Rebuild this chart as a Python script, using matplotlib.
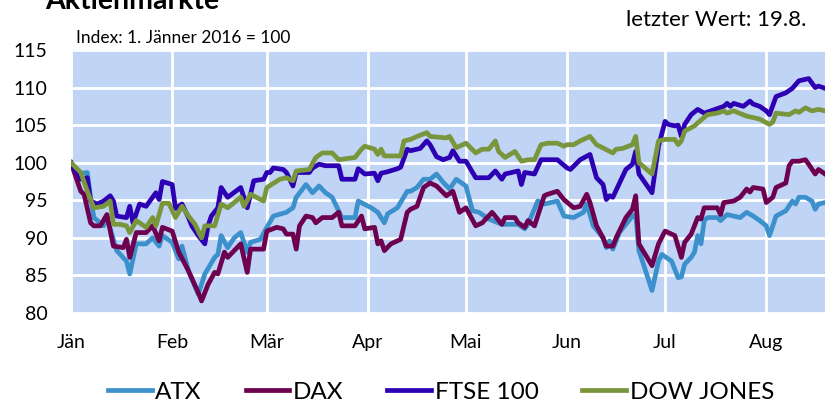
import matplotlib
matplotlib.use("Agg")
import matplotlib.pyplot as plt
import pandas as pd

# Index: 1. Jänner 2016 = 100, x = Tage seit 1.1.2016
atx_days = [0, 2, 5, 6, 7, 10, 11, 14, 17, 18, 20, 23, 25, 27, 28, 31, 33, 34, 36, 39,
            41, 44, 45, 46, 48, 50, 52, 54, 55, 58, 60, 62, 66, 68, 69, 72, 74, 76, 78, 80,
            81, 83, 87, 88, 92, 94, 96, 97, 100, 103, 104, 106, 108, 110, 112, 114, 116, 118, 121, 123,
            125, 128, 132, 137, 139, 140, 143, 145, 149, 151, 154, 157, 158, 160, 163, 164, 165, 166, 168, 172,
            173, 174, 178, 180, 181, 184, 186, 187, 188, 190, 191, 192, 193, 194, 195, 198, 199, 201, 205, 207,
            209, 211, 213, 214, 216, 219, 221, 222, 223, 225, 227, 228, 229, 231]
atx_vals = [100, 98.5, 98.7, 95.4, 92.7, 91.6, 92.7, 88.3, 86.9, 85.2, 89.2, 89.2, 90.0, 88.9, 90.3, 89.4, 87.2, 88.9, 85.6, 82.5,
            85.2, 87.4, 87.8, 90.3, 88.7, 90.0, 90.7, 88.1, 89.4, 89.8, 91.4, 92.9, 93.4, 94.0, 95.4, 97.1, 96.0, 96.9, 96.0, 95.4,
            94.5, 92.7, 92.7, 94.9, 94.0, 93.4, 92.0, 93.2, 94.0, 96.2, 96.2, 96.7, 97.8, 97.8, 98.5, 97.4, 96.5, 97.8, 96.9, 93.6,
            93.4, 92.5, 91.8, 91.8, 91.2, 91.8, 94.9, 94.5, 94.9, 92.9, 92.7, 93.4, 94.5, 91.6, 90.0, 88.7, 89.6, 88.5, 90.7, 92.9,
            93.1, 88.3, 83.0, 86.9, 87.8, 86.9, 84.7, 84.8, 86.5, 87.4, 88.1, 90.3, 89.2, 92.3, 92.7, 92.7, 92.3, 93.1, 92.7, 93.4,
            92.9, 92.3, 91.6, 90.3, 92.9, 93.6, 94.9, 94.5, 95.4, 95.4, 94.9, 93.8, 94.5, 94.7]

dax_days = [0, 3, 4, 6, 7, 9, 11, 13, 16, 17, 18, 20, 23, 25, 27, 28, 31, 33, 36, 39,
            40, 42, 44, 45, 47, 48, 52, 54, 55, 59, 60, 63, 65, 66, 68, 69, 70, 72, 74, 75,
            77, 80, 82, 83, 87, 89, 90, 93, 94, 95, 96, 98, 101, 103, 104, 106, 108, 110, 112, 115,
            117, 119, 121, 124, 126, 129, 132, 133, 136, 137, 139, 140, 142, 145, 146, 149, 151, 154, 156, 158,
            159, 161, 163, 164, 166, 167, 170, 172, 173, 174, 178, 180, 182, 185, 187, 188, 190, 192, 193, 194,
            198, 199, 200, 203, 205, 207, 208, 209, 212, 213, 215, 216, 219, 220, 221, 223, 225, 226, 228, 229, 231]
dax_vals = [100, 96.2, 95.8, 92.0, 91.6, 91.6, 93.1, 88.9, 88.7, 89.8, 87.4, 90.7, 90.7, 91.6, 89.6, 91.4, 90.9, 88.1, 85.6, 82.7,
            81.6, 83.8, 85.4, 85.2, 88.1, 87.4, 89.2, 85.4, 88.5, 88.5, 90.9, 91.4, 91.2, 90.5, 90.5, 88.5, 91.6, 92.9, 92.7, 92.0,
            92.7, 92.7, 93.4, 91.6, 91.6, 92.9, 91.2, 91.4, 89.2, 89.6, 88.3, 89.2, 89.8, 93.4, 93.8, 94.2, 96.7, 97.3, 96.9, 95.6,
            96.2, 93.4, 94.0, 91.6, 92.0, 93.4, 91.8, 92.7, 92.7, 92.0, 91.4, 92.3, 91.6, 95.6, 95.8, 96.2, 95.1, 94.0, 94.2, 95.8,
            94.7, 91.6, 90.0, 88.9, 88.9, 90.0, 92.7, 93.8, 95.6, 89.2, 86.3, 89.2, 90.9, 90.3, 87.4, 89.4, 90.5, 92.7, 92.5, 94.0,
            94.0, 93.1, 94.7, 94.9, 95.4, 96.5, 96.1, 96.7, 96.5, 94.7, 95.4, 96.7, 97.3, 99.6, 100.2, 100.2, 100.4, 99.8, 98.5, 99.1, 98.5]

ftse_days = [0, 3, 5, 6, 8, 10, 12, 13, 14, 17, 18, 19, 21, 23, 26, 27, 28, 31, 32, 34,
             36, 37, 39, 41, 42, 43, 45, 46, 48, 52, 54, 56, 59, 60, 61, 62, 65, 66, 68, 69,
             73, 74, 76, 78, 82, 83, 87, 88, 90, 93, 94, 95, 97, 100, 101, 103, 104, 107, 109, 110,
             112, 114, 116, 117, 119, 121, 124, 128, 130, 132, 133, 137, 138, 139, 142, 144, 149, 152, 153, 156,
             159, 161, 163, 164, 165, 166, 170, 172, 173, 174, 178, 180, 182, 183, 185, 186, 187, 188, 190, 192,
             194, 196, 200, 201, 202, 203, 206, 208, 209, 211, 213, 214, 216, 219, 221, 223, 226, 228, 229, 231]
ftse_vals = [100, 97.8, 98.0, 94.9, 94.5, 94.9, 95.6, 94.9, 92.9, 92.7, 94.2, 92.0, 94.5, 94.2, 96.0, 95.1, 97.5, 97.1, 93.9, 94.5,
             92.7, 91.6, 90.3, 89.2, 91.6, 92.9, 94.0, 96.7, 95.4, 96.7, 94.0, 97.6, 97.8, 98.7, 98.7, 99.3, 99.1, 98.7, 96.9, 98.7,
             98.7, 99.3, 99.8, 99.6, 99.6, 97.8, 97.8, 99.2, 98.5, 98.6, 97.6, 98.6, 98.8, 99.2, 99.4, 101.8, 101.6, 101.9, 102.9, 102.4,
             100.8, 100.4, 100.7, 101.6, 100.2, 100.2, 98.0, 98.0, 98.9, 97.8, 98.5, 98.9, 97.1, 98.7, 98.5, 100.4, 100.4, 99.3, 99.1, 100.4,
             101.1, 98.0, 97.1, 95.1, 95.6, 95.4, 99.1, 99.8, 101.5, 98.5, 96.0, 102.2, 105.5, 105.1, 104.9, 105.0, 103.5, 105.1, 106.4, 107.1,
             106.6, 106.9, 107.5, 107.9, 107.5, 107.9, 107.5, 108.2, 107.8, 107.5, 106.9, 106.4, 108.8, 109.3, 109.9, 110.9, 111.2, 110.0, 110.2, 109.9]

dow_days = [0, 3, 5, 7, 10, 12, 13, 15, 17, 18, 20, 23, 25, 26, 28, 30, 32, 34, 36, 38,
            40, 41, 44, 46, 48, 52, 53, 55, 59, 60, 64, 66, 68, 69, 73, 75, 77, 80, 82, 87,
            89, 90, 93, 94, 95, 96, 101, 102, 104, 106, 109, 110, 115, 116, 118, 121, 124, 126, 128, 130,
            131, 133, 136, 138, 140, 142, 144, 146, 149, 151, 152, 154, 156, 159, 161, 166, 167, 169, 172, 173,
            174, 178, 180, 182, 185, 186, 187, 188, 191, 192, 195, 198, 200, 201, 203, 207, 211, 214, 215, 216,
            220, 222, 223, 225, 227, 229, 231]
dow_vals = [100, 98.7, 96.2, 94.0, 94.2, 94.9, 91.8, 91.8, 91.6, 90.7, 92.3, 91.4, 92.7, 91.6, 94.6, 94.6, 92.7, 94.2, 92.9, 91.8,
            90.0, 91.6, 91.6, 94.5, 94.0, 95.4, 94.2, 95.8, 94.9, 96.7, 97.8, 98.0, 97.6, 98.9, 99.1, 100.7, 101.3, 101.3, 100.4, 100.7,
            101.8, 102.2, 101.8, 101.1, 101.8, 100.9, 100.9, 102.9, 103.1, 103.5, 104.0, 103.5, 103.3, 103.5, 102.0, 102.6, 101.3, 101.8, 101.8, 102.9,
            101.5, 100.7, 101.5, 100.2, 100.4, 100.4, 102.4, 102.6, 102.6, 102.2, 102.4, 102.4, 102.9, 103.5, 102.4, 101.3, 101.8, 101.9, 102.4, 103.5,
            100.0, 98.5, 102.9, 103.1, 103.1, 102.4, 102.9, 104.2, 104.9, 105.3, 106.4, 106.6, 106.9, 106.6, 106.9, 106.2, 105.8, 105.1, 105.4, 106.6,
            106.4, 106.9, 106.7, 107.3, 106.9, 107.1, 106.9]

series_names = ["ATX", "DAX", "FTSE 100", "DOW JONES"]
series_colors = ["#3C91CD", "#6E0050", "#2D00B4", "#7A963C"]
month_labels = ["Jän", "Feb", "Mär", "Apr", "Mai", "Jun", "Jul", "Aug"]
y_ticks = [80, 85, 90, 95, 100, 105, 110, 115]

start = pd.Timestamp("2016-01-01")


def to_dates(days):
    return start + pd.to_timedelta(days, unit="D")


plt.rcParams["font.family"] = ["Lato", "DejaVu Sans"]

fig = plt.figure(figsize=(8.27, 4.11), dpi=100)
ax = fig.add_axes([71 / 827, 1 - 313 / 411, 754 / 827, 263 / 411])
ax.set_facecolor("#C0D4F6")

all_days = [atx_days, dax_days, ftse_days, dow_days]
all_vals = [atx_vals, dax_vals, ftse_vals, dow_vals]
for d, v, name, col in zip(all_days, all_vals, series_names, series_colors):
    ax.plot(to_dates(d), v, color=col, lw=3.4, label=name, solid_joinstyle="round")

ax.set_xlim(start, start + pd.Timedelta(days=231))
ax.set_ylim(80, 115)
ax.set_yticks(y_ticks)
ax.set_yticklabels([str(t) for t in y_ticks], fontsize=14)
month_starts = pd.date_range("2016-01-01", periods=8, freq="MS")
ax.set_xticks(month_starts)
ax.set_xticklabels(month_labels, fontsize=14)
ax.tick_params(axis="both", length=0)
ax.tick_params(axis="y", pad=17)
ax.tick_params(axis="x", pad=15)
ax.grid(True, color="white", lw=2)
ax.set_axisbelow(True)
for s in ax.spines.values():
    s.set_visible(False)

fig.text(45 / 827, 1 - 9 / 411, "Aktienmärkte", fontsize=20.5, fontweight="bold",
         va="baseline", ha="left")
fig.text(806 / 827, 1 - 26 / 411, "letzter Wert: 19.8.", fontsize=16,
         va="baseline", ha="right")
fig.text(76 / 827, 1 - 43 / 411, "Index: 1. Jänner 2016 = 100", fontsize=12.5,
         va="baseline", ha="left")

fig.legend(loc="center", bbox_to_anchor=(441 / 827, 1 - 392 / 411), ncol=4,
           frameon=False, prop={"size": 17.5},
           handlelength=1.8, handletextpad=0.15, columnspacing=1.8)

fig.savefig("out.png", dpi=100)
